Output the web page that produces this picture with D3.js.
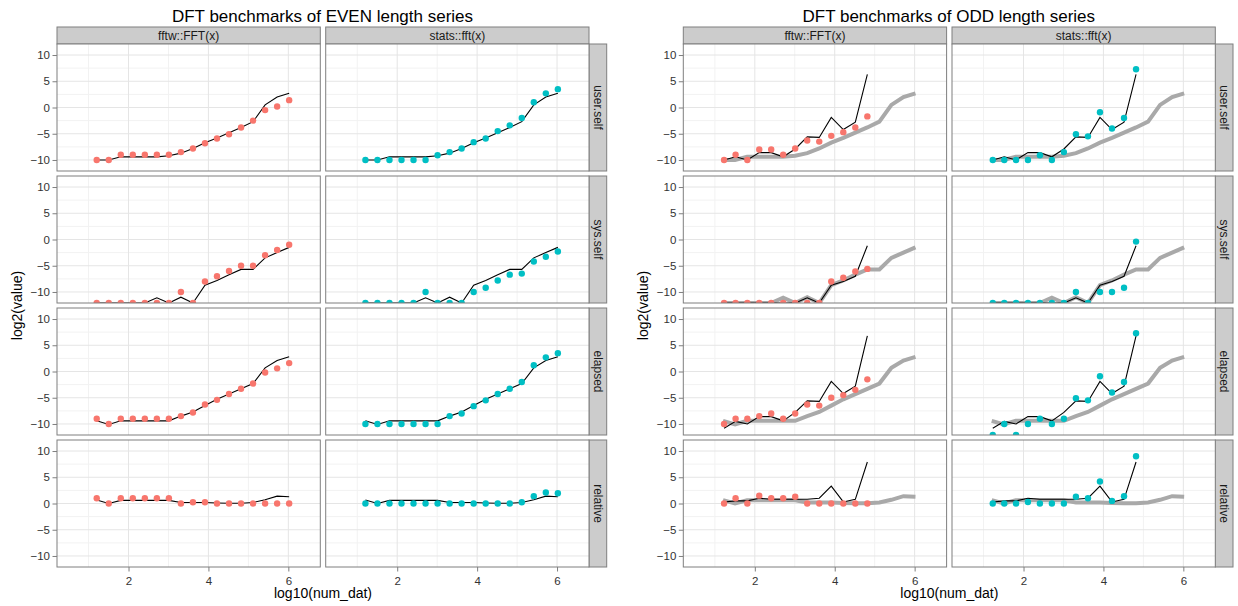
<!DOCTYPE html>
<html>
<head>
<meta charset="utf-8">
<script src="https://cdn.jsdelivr.net/npm/d3@7"></script>
<style>
  body { margin: 0; background: #fff; }
  text { font-family: "Liberation Sans", Arial, sans-serif; }
</style>
</head>
<body>
<div id="viz"></div>
<script>
const ninf = -Infinity; // log2(0) -> ggplot puts it on the lower panel edge

const titles = ["DFT benchmarks of EVEN length series", "DFT benchmarks of ODD length series"];
const methods = ["fftw::FFT(x)", "stats::fft(x)"];
const measures = ["user.self", "sys.self", "elapsed", "relative"];
const yTicks = [-10, -5, 0, 5, 10];
const yMinor = [-7.5, -2.5, 2.5, 7.5];
const xTicks = [2, 4, 6];
const xMinor = [1, 3, 5];

const numDatEven = [16, 32, 64, 128, 256, 512, 1024, 2048, 4096, 8192, 16384, 32768, 65536, 131072, 262144, 524288, 1048576];
const numDatOdd = [17, 33, 65, 129, 257, 513, 1025, 2049, 4097, 8193, 16385, 32769, 65537];

// black reference line, EVEN series (also the grey line in the ODD plot)
const evenLineUser = [-10, -10, -9.4, -9.4, -9.4, -9.4, -9.2, -8.7, -7.8, -6.7, -5.8, -4.8, -3.8, -2.7, 0.5, 2.0, 2.7];
const evenLineSys = [ninf, ninf, ninf, ninf, ninf, -11.1, ninf, -11.0, ninf, -8.7, -7.8, -6.7, -5.7, -5.7, -3.5, -2.5, -1.5];
const evenLineElapsed = [-9.4, -10.1, -9.4, -9.4, -9.4, -9.4, -9.4, -8.5, -7.7, -6.5, -5.3, -4.3, -3.3, -2.3, 0.7, 2.1, 2.8];
const evenLineRelative = [0.65, 0, 0.6, 0.6, 0.6, 0.6, 0.6, 0.2, 0.2, 0.2, 0.1, 0.05, 0.05, 0.2, 0.7, 1.4, 1.3];

const evenFftwUser = [-10, -10, -9, -9, -9, -9, -9, -8.5, -7.8, -6.8, -5.9, -5.1, -3.8, -2.5, -0.5, 0.2, 1.4];
const evenFftwSys = [ninf, ninf, ninf, ninf, ninf, ninf, ninf, -10, ninf, -8, -7, -6, -5, -5, -3, -2, -1];
const evenFftwElapsed = [-9, -10, -9, -9, -9, -9, -9, -8.5, -7.8, -6.3, -5.4, -4.3, -3.3, -2.3, -0.2, 0.6, 1.6];
const evenFftwRelative = [1, 0, 1, 1, 1, 1, 1, 0, 0.25, 0.25, 0, 0, 0, 0, 0, 0, 0];

const evenStatsUser = [-10, -10, -10, -10, -10, -10, -9.1, -8.5, -7.8, -6.6, -5.9, -4.5, -3.4, -2.0, 1.0, 2.7, 3.5];
const evenStatsSys = [ninf, ninf, ninf, ninf, ninf, -10, ninf, ninf, ninf, -10, -9.2, -7.8, -6.7, -6.5, -4.2, -3.3, -2.3];
const evenStatsElapsed = [-10, -10, -10, -10, -10, -10, -10, -8.5, -8.0, -6.6, -5.5, -4.3, -3.3, -2.0, 1.2, 2.7, 3.5];
const evenStatsRelative = [0, 0, 0, 0, 0, 0, 0, 0, 0, 0, 0, 0, 0, 0.25, 1.4, 2.1, 1.95];

// black reference line, ODD series
const oddLineUser = [-10, -9.4, -10, -8.6, -8.6, -9.4, -7.9, -5.6, -5.7, -1.9, -4.2, -2.8, 6.3];
const oddLineSys = [ninf, ninf, ninf, ninf, ninf, ninf, ninf, -11.1, ninf, -8.7, -8.0, -7.0, -1.2];
const oddLineElapsed = [-10.8, -9.5, -10, -8.6, -8.6, -9.4, -7.8, -5.6, -5.7, -1.9, -4.2, -2.8, 6.8];
const oddLineRelative = [0.3, 0.5, 0.5, 1, 0.8, 0.8, 0.8, 0.8, 1, 3.3, 0.3, 0.8, 7.9];

const oddFftwUser = [-10, -9, -10, -8, -8, -9, -7.8, -6.3, -6.5, -5.4, -4.7, -3.8, -1.7];
const oddFftwSys = [ninf, ninf, ninf, ninf, ninf, ninf, ninf, ninf, ninf, -8, -7.3, -6.1, -5.6];
const oddFftwElapsed = [-10, -9, -9, -8.5, -8, -9, -8, -6.3, -6.5, -5, -4.5, -3.5, -1.5];
const oddFftwRelative = [0, 1, 0, 1.5, 1, 1, 1.3, 0, 0, 0, 0, 0, 0];

const oddStatsUser = [-10, -10, -10, -10, -9.1, -10, -8.5, -5.1, -5.5, -0.9, -4.0, -2.0, 7.3];
const oddStatsSys = [ninf, ninf, ninf, ninf, ninf, ninf, ninf, -10, ninf, -10, -10, -9.2, -0.4];
const oddStatsElapsed = [ninf, -10, ninf, -10, -9, -10, -9, -5.1, -5.5, -0.9, -4.0, -2.0, 7.3];
const oddStatsRelative = [0, 0, 0, 0.3, 0, 0, 0, 1.3, 1, 4.2, 0.5, 1.4, 9];

const plots = [
  { n: numDatEven,
    line: [evenLineUser, evenLineSys, evenLineElapsed, evenLineRelative],
    pts: [[evenFftwUser, evenFftwSys, evenFftwElapsed, evenFftwRelative],
          [evenStatsUser, evenStatsSys, evenStatsElapsed, evenStatsRelative]] },
  { n: numDatOdd,
    line: [oddLineUser, oddLineSys, oddLineElapsed, oddLineRelative],
    pts: [[oddFftwUser, oddFftwSys, oddFftwElapsed, oddFftwRelative],
          [oddStatsUser, oddStatsSys, oddStatsElapsed, oddStatsRelative]],
    ref: { n: numDatEven, line: [evenLineUser, evenLineSys, evenLineElapsed, evenLineRelative] } }
];
const colours = ["#F8766D", "#00BFC4"];

const width = 1238, height = 606;
const plotStep = 626.3;
const padLeft = 57, padTop = 44;
const panelW = 263.3, panelH = 127, colStep = 268.7, rowStep = 132;
const stripH = 17, stripW = 17.7;

const svg = d3.select("#viz").append("svg")
  .attr("width", width).attr("height", height);

svg.append("defs").append("clipPath").attr("id", "pclip")
  .append("rect").attr("width", panelW).attr("height", panelH);

const x = d3.scaleLinear().domain([0.21, 6.8]).range([0, panelW]);
const y = d3.scaleLinear().domain([-12.1, 12.1]).range([panelH, 0]).clamp(true);
const minus = d => d < 0 ? "\u2212" + Math.abs(d) : String(d);

const line = d3.line().x(d => x(d.x)).y(d => y(d.v));
const toPts = (n, vals) => vals.map((v, i) => ({ x: Math.log10(n[i]), v: v }));

plots.forEach((p, pi) => {
  const ox = pi * plotStep;
  const g = svg.append("g").attr("transform", `translate(${ox},0)`);

  g.append("text")
    .attr("x", 322.5).attr("y", 22)
    .attr("text-anchor", "middle")
    .attr("font-size", "17px").attr("fill", "#000")
    .text(titles[pi]);

  // column strips
  methods.forEach((m, c) => {
    const sx = padLeft + c * colStep;
    g.append("rect").attr("x", sx).attr("y", padTop - stripH)
      .attr("width", panelW).attr("height", stripH)
      .attr("fill", "#cccccc").attr("stroke", "#7f7f7f").attr("stroke-width", 1);
    g.append("text").attr("x", sx + panelW / 2).attr("y", padTop - stripH / 2)
      .attr("dy", "0.35em").attr("text-anchor", "middle")
      .attr("font-size", "12px").attr("fill", "#1a1a1a").text(m);
  });

  measures.forEach((ms, r) => {
    const py = padTop + r * rowStep;
    const sx = padLeft + colStep + panelW;
    g.append("rect").attr("x", sx).attr("y", py)
      .attr("width", stripW).attr("height", panelH)
      .attr("fill", "#cccccc").attr("stroke", "#7f7f7f").attr("stroke-width", 1);
    g.append("text")
      .attr("transform", `translate(${sx + stripW / 2},${py + panelH / 2}) rotate(90)`)
      .attr("dy", "0.35em").attr("text-anchor", "middle")
      .attr("font-size", "12px").attr("fill", "#1a1a1a").text(ms);

    methods.forEach((m, c) => {
      const pg = g.append("g").attr("transform", `translate(${padLeft + c * colStep},${py})`);
      pg.append("rect").attr("width", panelW).attr("height", panelH).attr("fill", "#fff");

      pg.selectAll(".ymin").data(yMinor).join("line")
        .attr("x1", 0).attr("x2", panelW).attr("y1", d => y(d)).attr("y2", d => y(d))
        .attr("stroke", "#f2f2f2").attr("stroke-width", 1);
      pg.selectAll(".xmin").data(xMinor).join("line")
        .attr("y1", 0).attr("y2", panelH).attr("x1", d => x(d)).attr("x2", d => x(d))
        .attr("stroke", "#f2f2f2").attr("stroke-width", 1);
      pg.selectAll(".ymaj").data(yTicks).join("line")
        .attr("x1", 0).attr("x2", panelW).attr("y1", d => y(d)).attr("y2", d => y(d))
        .attr("stroke", "#e5e5e5").attr("stroke-width", 1);
      pg.selectAll(".xmaj").data(xTicks).join("line")
        .attr("y1", 0).attr("y2", panelH).attr("x1", d => x(d)).attr("x2", d => x(d))
        .attr("stroke", "#e5e5e5").attr("stroke-width", 1);

      const cg = pg.append("g").attr("clip-path", "url(#pclip)");
      if (p.ref) {
        cg.append("path").datum(toPts(p.ref.n, p.ref.line[r]))
          .attr("d", line).attr("fill", "none")
          .attr("stroke", "#a9a9a9").attr("stroke-width", 4);
      }
      cg.append("path").datum(toPts(p.n, p.line[r]))
        .attr("d", line).attr("fill", "none")
        .attr("stroke", "#000").attr("stroke-width", 1.1);
      cg.selectAll("circle").data(toPts(p.n, p.pts[c][r])).join("circle")
        .attr("cx", d => x(d.x)).attr("cy", d => y(d.v)).attr("r", 3.2)
        .attr("fill", colours[c]);

      pg.append("rect").attr("width", panelW).attr("height", panelH)
        .attr("fill", "none").attr("stroke", "#7f7f7f").attr("stroke-width", 1);

      if (c === 0) {
        const ay = pg.append("g").call(d3.axisLeft(y).tickValues(yTicks).tickSize(4.5)
          .tickPadding(2.5).tickFormat(minus));
        ay.select(".domain").remove();
        ay.selectAll("line").attr("stroke", "#7f7f7f");
        ay.selectAll("text").attr("font-size", "11.5px").attr("fill", "#333")
          .attr("font-family", "Liberation Sans, Arial, sans-serif");
      }
      if (r === measures.length - 1) {
        const ax = pg.append("g").attr("transform", `translate(0,${panelH})`)
          .call(d3.axisBottom(x).tickValues(xTicks).tickSize(4.5).tickPadding(5)
            .tickFormat(d3.format("d")));
        ax.select(".domain").remove();
        ax.selectAll("line").attr("stroke", "#7f7f7f");
        ax.selectAll("text").attr("font-size", "11.5px").attr("fill", "#333")
          .attr("font-family", "Liberation Sans, Arial, sans-serif");
      }
    });
  });

  g.append("text").attr("x", padLeft + (colStep + panelW) / 2).attr("y", 598)
    .attr("text-anchor", "middle").attr("font-size", "14px").attr("fill", "#000")
    .text("log10(num_dat)");
  g.append("text")
    .attr("transform", `translate(22,${padTop + (3 * rowStep + panelH) / 2}) rotate(-90)`)
    .attr("text-anchor", "middle").attr("font-size", "14px").attr("fill", "#000")
    .text("log2(value)");
});
</script>
</body>
</html>
